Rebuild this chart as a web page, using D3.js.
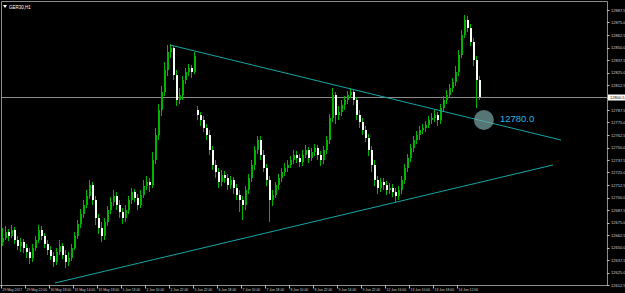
<!DOCTYPE html>
<html>
<head>
<meta charset="utf-8">
<script src="https://cdn.jsdelivr.net/npm/d3@7"></script>
<style>
  html, body { margin: 0; padding: 0; background: #000; }
  svg { display: block; }
  text { font-family: "Liberation Sans", Arial, sans-serif; }
</style>
</head>
<body>
<div id="chart"></div>
<script>
// GER30 H1 candles, 29 May - 14 Jun 2017
var openData = [
  12655.5, 12659.5, 12665.5, 12661.5, 12667.5, 12657.5, 12651.5, 12655.5,
  12649.5, 12645.5, 12639.5, 12649.5, 12657.5, 12667.5, 12661.5, 12653.5,
  12647.5, 12641.5, 12635.5, 12645.5, 12651.5, 12642.5, 12635.5, 12639.5,
  12649.5, 12661.5, 12673.5, 12683.5, 12692.5, 12701.5, 12712.5, 12697.5,
  12679.5, 12669.5, 12661.5, 12675.5, 12687.5, 12695.5, 12701.5, 12692.5,
  12685.5, 12679.5, 12687.5, 12697.5, 12705.5, 12699.5, 12692.5, 12702.5,
  12711.5, 12715.5, 12712.5, 12737.5, 12762.5, 12787.5, 12805.5, 12827.5,
  12845.5, 12849.5, 12822.5, 12797.5, 12802.5, 12817.5, 12825.5, 12829.5,
  12825.5, 12787.5, 12782.5, 12777.5, 12769.5, 12762.5, 12747.5, 12732.5,
  12725.5, 12715.5, 12722.5, 12719.5, 12712.5, 12717.5, 12709.5, 12702.5,
  12697.5, 12692.5, 12707.5, 12719.5, 12732.5, 12747.5, 12757.5, 12742.5,
  12729.5, 12717.5, 12697.5, 12702.5, 12712.5, 12719.5, 12725.5, 12729.5,
  12732.5, 12737.5, 12742.5, 12739.5, 12735.5, 12742.5, 12747.5, 12739.5,
  12745.5, 12749.5, 12742.5, 12737.5, 12747.5, 12757.5, 12779.5, 12802.5,
  12782.5, 12785.5, 12792.5, 12797.5, 12802.5, 12805.5, 12797.5, 12782.5,
  12775.5, 12767.5, 12759.5, 12747.5, 12732.5, 12717.5, 12709.5, 12715.5,
  12712.5, 12707.5, 12709.5, 12705.5, 12701.5, 12707.5, 12717.5, 12729.5,
  12739.5, 12749.5, 12757.5, 12762.5, 12767.5, 12769.5, 12772.5, 12777.5,
  12779.5, 12782.5, 12777.5, 12789.5, 12797.5, 12802.5, 12809.5, 12815.5,
  12825.5, 12842.5, 12862.5, 12877.5, 12869.5, 12855.5, 12837.5, 12817.5
];
var highData = [
  12669.5, 12671.5, 12668.5, 12672.5, 12670.5, 12661.5, 12659.5, 12658.5,
  12653.5, 12649.5, 12653.5, 12661.5, 12672.5, 12671.5, 12664.5, 12657.5,
  12651.5, 12645.5, 12649.5, 12657.5, 12654.5, 12647.5, 12645.5, 12653.5,
  12665.5, 12677.5, 12688.5, 12697.5, 12707.5, 12717.5, 12715.5, 12701.5,
  12683.5, 12675.5, 12679.5, 12691.5, 12700.5, 12707.5, 12705.5, 12697.5,
  12689.5, 12692.5, 12701.5, 12709.5, 12708.5, 12703.5, 12707.5, 12717.5,
  12721.5, 12719.5, 12745.5, 12769.5, 12793.5, 12811.5, 12835.5, 12852.5,
  12853.5, 12851.5, 12827.5, 12809.5, 12821.5, 12829.5, 12833.5, 12832.5,
  12845.5, 12791.5, 12785.5, 12781.5, 12773.5, 12767.5, 12751.5, 12737.5,
  12729.5, 12727.5, 12726.5, 12723.5, 12721.5, 12720.5, 12713.5, 12707.5,
  12701.5, 12711.5, 12723.5, 12737.5, 12751.5, 12761.5, 12761.5, 12747.5,
  12733.5, 12721.5, 12707.5, 12715.5, 12723.5, 12729.5, 12734.5, 12737.5,
  12741.5, 12747.5, 12746.5, 12743.5, 12747.5, 12752.5, 12750.5, 12749.5,
  12753.5, 12752.5, 12746.5, 12751.5, 12761.5, 12783.5, 12809.5, 12805.5,
  12791.5, 12797.5, 12801.5, 12806.5, 12809.5, 12808.5, 12800.5, 12787.5,
  12779.5, 12771.5, 12763.5, 12751.5, 12737.5, 12721.5, 12719.5, 12719.5,
  12716.5, 12714.5, 12713.5, 12709.5, 12711.5, 12721.5, 12733.5, 12743.5,
  12753.5, 12761.5, 12766.5, 12771.5, 12773.5, 12776.5, 12781.5, 12784.5,
  12787.5, 12785.5, 12793.5, 12801.5, 12807.5, 12813.5, 12819.5, 12831.5,
  12847.5, 12867.5, 12882.5, 12881.5, 12873.5, 12859.5, 12841.5, 12821.5
];
var lowData = [
  12651.5, 12657.5, 12656.5, 12659.5, 12653.5, 12647.5, 12645.5, 12644.5,
  12639.5, 12633.5, 12635.5, 12646.5, 12654.5, 12657.5, 12649.5, 12642.5,
  12637.5, 12630.5, 12632.5, 12642.5, 12638.5, 12629.5, 12631.5, 12636.5,
  12647.5, 12658.5, 12669.5, 12679.5, 12689.5, 12698.5, 12692.5, 12672.5,
  12663.5, 12655.5, 12657.5, 12671.5, 12683.5, 12691.5, 12687.5, 12679.5,
  12673.5, 12675.5, 12683.5, 12693.5, 12695.5, 12687.5, 12689.5, 12699.5,
  12707.5, 12705.5, 12709.5, 12733.5, 12757.5, 12781.5, 12801.5, 12821.5,
  12839.5, 12817.5, 12791.5, 12793.5, 12797.5, 12813.5, 12821.5, 12819.5,
  12823.5, 12777.5, 12771.5, 12765.5, 12757.5, 12742.5, 12727.5, 12719.5,
  12709.5, 12711.5, 12714.5, 12707.5, 12708.5, 12703.5, 12697.5, 12685.5,
  12677.5, 12687.5, 12703.5, 12715.5, 12727.5, 12743.5, 12737.5, 12725.5,
  12711.5, 12675.5, 12691.5, 12699.5, 12707.5, 12715.5, 12721.5, 12725.5,
  12729.5, 12733.5, 12734.5, 12730.5, 12731.5, 12739.5, 12734.5, 12736.5,
  12741.5, 12737.5, 12731.5, 12733.5, 12743.5, 12753.5, 12775.5, 12773.5,
  12777.5, 12781.5, 12787.5, 12793.5, 12799.5, 12792.5, 12777.5, 12769.5,
  12762.5, 12755.5, 12741.5, 12725.5, 12711.5, 12703.5, 12705.5, 12707.5,
  12702.5, 12703.5, 12700.5, 12695.5, 12697.5, 12703.5, 12713.5, 12725.5,
  12735.5, 12745.5, 12753.5, 12757.5, 12763.5, 12765.5, 12769.5, 12773.5,
  12775.5, 12771.5, 12773.5, 12785.5, 12793.5, 12799.5, 12805.5, 12811.5,
  12821.5, 12839.5, 12859.5, 12865.5, 12851.5, 12831.5, 12789.5, 12797.5
];
var closeData = [
  12659.5, 12665.5, 12661.5, 12667.5, 12657.5, 12651.5, 12655.5, 12649.5,
  12645.5, 12639.5, 12649.5, 12657.5, 12667.5, 12661.5, 12653.5, 12647.5,
  12641.5, 12635.5, 12645.5, 12651.5, 12642.5, 12635.5, 12639.5, 12649.5,
  12661.5, 12673.5, 12683.5, 12692.5, 12701.5, 12712.5, 12697.5, 12679.5,
  12669.5, 12661.5, 12675.5, 12687.5, 12695.5, 12701.5, 12692.5, 12685.5,
  12679.5, 12687.5, 12697.5, 12705.5, 12699.5, 12692.5, 12702.5, 12711.5,
  12715.5, 12712.5, 12737.5, 12762.5, 12787.5, 12805.5, 12827.5, 12845.5,
  12849.5, 12822.5, 12797.5, 12802.5, 12817.5, 12825.5, 12829.5, 12825.5,
  12841.5, 12782.5, 12777.5, 12769.5, 12762.5, 12747.5, 12732.5, 12725.5,
  12715.5, 12722.5, 12719.5, 12712.5, 12717.5, 12709.5, 12702.5, 12697.5,
  12692.5, 12707.5, 12719.5, 12732.5, 12747.5, 12757.5, 12742.5, 12729.5,
  12717.5, 12697.5, 12702.5, 12712.5, 12719.5, 12725.5, 12729.5, 12732.5,
  12737.5, 12742.5, 12739.5, 12735.5, 12742.5, 12747.5, 12739.5, 12745.5,
  12749.5, 12742.5, 12737.5, 12747.5, 12757.5, 12779.5, 12802.5, 12782.5,
  12785.5, 12792.5, 12797.5, 12802.5, 12805.5, 12797.5, 12782.5, 12775.5,
  12767.5, 12759.5, 12747.5, 12732.5, 12717.5, 12709.5, 12715.5, 12712.5,
  12707.5, 12709.5, 12705.5, 12701.5, 12707.5, 12717.5, 12729.5, 12739.5,
  12749.5, 12757.5, 12762.5, 12767.5, 12769.5, 12772.5, 12777.5, 12779.5,
  12782.5, 12777.5, 12789.5, 12797.5, 12802.5, 12809.5, 12815.5, 12825.5,
  12842.5, 12862.5, 12877.5, 12869.5, 12855.5, 12837.5, 12817.5, 12800.5
];

// Price scale labels (right side)
var priceTicks = [
  12887.5, 12875.0, 12862.5, 12850.0, 12837.5, 12825.0, 12812.5, 12800.0,
  12787.5, 12775.0, 12762.5, 12750.0, 12737.5, 12725.0, 12712.5, 12700.0,
  12687.5, 12675.0, 12662.5, 12650.0, 12637.5, 12625.0, 12612.5
];

// Time scale labels (one every 8 bars)
var timeLabels = [
  "29 May 2017", "29 May 22:00", "30 May 18:00", "31 May 14:00", "31 May 18:00",
  "1 Jun 13:00", "2 Jun 10:00", "2 Jun 22:00", "5 Jun 22:00", "6 Jun 18:00",
  "7 Jun 10:00", "7 Jun 18:00", "8 Jun 10:00", "8 Jun 22:00", "9 Jun 14:00",
  "9 Jun 22:00", "12 Jun 16:00", "13 Jun 10:00", "13 Jun 18:00", "14 Jun 12:00"
];

// Trendlines as [bar index, price] pairs
var upperTrend = [[55.7, 12852.5], [186, 12757.5]];
var lowerTrend = [[17.3, 12614.5], [183.3, 12732.5]];

// Marked level
var levelMark = { bar: 160.3, price: 12777.5, label: "12780.0" };

(function() {
  "use strict";

  var width = 625, height = 293;
  var axisX = 607, axisY = 285;
  var green = "#00b400";

  var bars = openData.map(function(o, i) {
    return { i: i, o: o, h: highData[i], l: lowData[i], c: closeData[i] };
  });

  // Scales
  var x = d3.scaleLinear().domain([0, bars.length - 1]).range([3, 480]);
  var y = d3.scaleLinear().domain([12612.5, 12887.5]).range([285, 10]);

  var svg = d3.select("#chart").append("svg")
    .attr("width", width).attr("height", height);

  svg.append("rect").attr("width", width).attr("height", height).attr("fill", "#000");

  // Frame
  svg.append("path")
    .attr("d", "M1.5," + axisY + "V1.5H" + (axisX + 0.5) + "V" + (axisY + 0.5) + "H0")
    .attr("fill", "none").attr("stroke", "#8c8c8c").attr("stroke-width", 1);

  // Title
  svg.append("path").attr("d", "M3,5H7L5,8Z").attr("fill", "#fff");
  svg.append("text").attr("x", 9).attr("y", 8.5)
    .attr("font-size", 4.5).attr("fill", "#fff").text("GER30,H1");

  var plot = svg.append("g");

  // Bid line
  var last = closeData[closeData.length - 1];
  var bidY = Math.round(y(last)) + 0.5;
  plot.append("line")
    .attr("x1", 2).attr("x2", axisX).attr("y1", bidY).attr("y2", bidY)
    .attr("stroke", "#8c8c8c").attr("stroke-width", 1);

  // Candles
  var candle = plot.selectAll("g.candle").data(bars).enter().append("g").attr("class", "candle");

  candle.append("line")
    .attr("x1", function(d) { return Math.round(x(d.i)) - 0.5; })
    .attr("x2", function(d) { return Math.round(x(d.i)) - 0.5; })
    .attr("y1", function(d) { return y(d.h); })
    .attr("y2", function(d) { return y(d.l); })
    .attr("stroke", green).attr("stroke-width", 1);

  candle.append("rect")
    .attr("x", function(d) { return Math.round(x(d.i)) - 1; })
    .attr("width", 2)
    .attr("y", function(d) { return y(Math.max(d.o, d.c)); })
    .attr("height", function(d) { return Math.max(1, Math.abs(y(d.o) - y(d.c))); })
    .attr("fill", function(d) { return d.c >= d.o ? green : "#f2fff2"; });

  // Trendlines
  var trendLine = d3.line()
    .x(function(d) { return x(d[0]); })
    .y(function(d) { return y(d[1]); });

  [upperTrend, lowerTrend].forEach(function(t) {
    plot.append("path").attr("d", trendLine(t))
      .attr("fill", "none").attr("stroke", "#13a6a6").attr("stroke-width", 1);
  });

  // Level marker
  plot.append("circle")
    .attr("cx", x(levelMark.bar)).attr("cy", y(levelMark.price)).attr("r", 10)
    .attr("fill", "#7aa6a6").attr("fill-opacity", 0.7);
  plot.append("text")
    .attr("x", x(levelMark.bar) + 16).attr("y", y(levelMark.price) + 2)
    .attr("font-size", 9.5).attr("fill", "#27b4e4").text(levelMark.label);

  // Price axis
  var pt = svg.selectAll("g.ptick").data(priceTicks).enter().append("g").attr("class", "ptick");
  pt.append("line")
    .attr("x1", axisX).attr("x2", axisX + 2.5)
    .attr("y1", function(d) { return Math.round(y(d)) + 0.5; })
    .attr("y2", function(d) { return Math.round(y(d)) + 0.5; })
    .attr("stroke", "#c0c0c0");
  pt.append("text")
    .attr("x", axisX + 4).attr("y", function(d) { return y(d) + 1.5; })
    .attr("font-size", 4).attr("fill", "#d0d0d0")
    .text(function(d) { return d.toFixed(1); });

  // Current price box
  svg.append("rect")
    .attr("x", axisX + 1).attr("y", bidY - 3).attr("width", 17).attr("height", 6)
    .attr("fill", "#fff");
  svg.append("text")
    .attr("x", axisX + 3).attr("y", bidY + 1.5)
    .attr("font-size", 4).attr("fill", "#000").text(last.toFixed(1));

  // Time axis
  var tt = svg.selectAll("g.ttick").data(timeLabels).enter().append("g").attr("class", "ttick");
  tt.append("line")
    .attr("x1", function(d, k) { return Math.round(x(k * 8)) - 1.5; })
    .attr("x2", function(d, k) { return Math.round(x(k * 8)) - 1.5; })
    .attr("y1", axisY).attr("y2", axisY + 3.5)
    .attr("stroke", "#c0c0c0");
  tt.append("text")
    .attr("x", function(d, k) { return Math.round(x(k * 8)) - 0.5; })
    .attr("y", axisY + 5.5)
    .attr("font-size", 3.4).attr("fill", "#d0d0d0")
    .text(function(d) { return d; });
})();
</script>
</body>
</html>
